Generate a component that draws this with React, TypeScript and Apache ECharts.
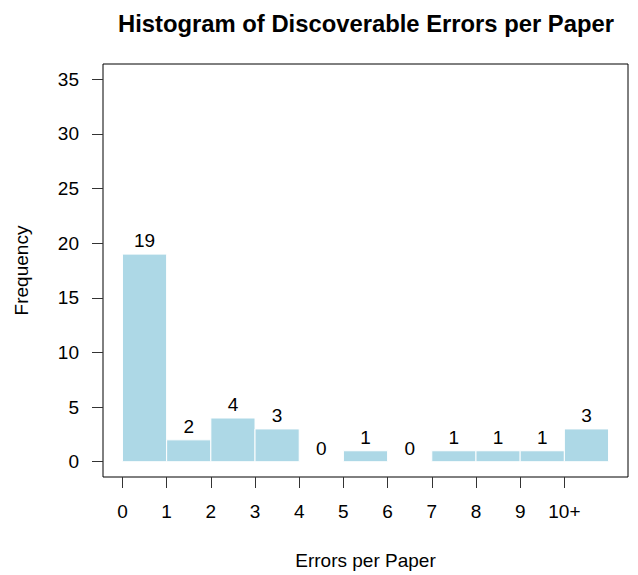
import React, { useEffect, useRef } from "react";
import * as echarts from "echarts";

const binLabels = ["0", "1", "2", "3", "4", "5", "6", "7", "8", "9", "10+"];
const binStarts = [0, 1, 2, 3, 4, 5, 6, 7, 8, 9, 10];
const counts = [19, 2, 4, 3, 0, 1, 0, 1, 1, 1, 3];
const xTicks = [0, 1, 2, 3, 4, 5, 6, 7, 8, 9, 10];
const yTicks = [0, 5, 10, 15, 20, 25, 30, 35];

const FONT = "'Liberation Sans', Arial, Helvetica, sans-serif";

export default function App() {
  const ref = useRef<HTMLDivElement>(null);
  useEffect(() => {
    document.body.style.margin = "0";
    if (!ref.current) return;
    const chart = echarts.init(ref.current, null, { renderer: "svg" });
    const data = counts.map((c, i) => [binStarts[i], binStarts[i] + 1, c]);
    chart.setOption({
      animation: false,
      backgroundColor: "#ffffff",
      title: {
        text: "Histogram of Discoverable Errors per Paper",
        left: 361,
        top: 6,
        textAlign: "center",
        textStyle: { fontFamily: FONT, fontWeight: "bold", fontSize: 23.8, color: "#000" },
      },
      grid: {
        left: 103,
        right: 10,
        top: 64,
        bottom: 97,
        show: true,
        borderColor: "#000",
        borderWidth: 1,
        backgroundColor: "transparent",
      },
      xAxis: {
        type: "value",
        min: -0.44,
        max: 11.44,
        name: "Errors per Paper",
        nameLocation: "middle",
        nameGap: 74,
        nameTextStyle: { fontFamily: FONT, fontSize: 19, color: "#000" },
        axisLine: { show: false, onZero: false },
        splitLine: { show: false },
        axisTick: {
          show: true,
          inside: false,
          length: 11,
          customValues: xTicks,
          lineStyle: { color: "#333", width: 1 },
        },
        axisLabel: {
          customValues: xTicks,
          margin: 25,
          fontFamily: FONT,
          fontSize: 19,
          color: "#000",
          formatter: (v: number) => binLabels[binStarts.indexOf(v)] ?? String(v),
        },
      },
      yAxis: {
        type: "value",
        min: -1.4,
        max: 36.4,
        name: "Frequency",
        nameLocation: "middle",
        nameGap: 72,
        nameTextStyle: { fontFamily: FONT, fontSize: 19, color: "#000" },
        axisLine: { show: false, onZero: false },
        splitLine: { show: false },
        axisTick: {
          show: true,
          length: 11,
          customValues: yTicks,
          lineStyle: { color: "#333", width: 1 },
        },
        axisLabel: {
          customValues: yTicks,
          margin: 24,
          fontFamily: FONT,
          fontSize: 19,
          color: "#000",
        },
      },
      series: [
        {
          type: "custom",
          data,
          renderItem: (params: any, api: any) => {
            const x0 = api.value(0);
            const x1 = api.value(1);
            const v = api.value(2);
            const p0 = api.coord([x0, 0]);
            const p1 = api.coord([x1, v]);
            const children: any[] = [];
            if (v > 0) {
              children.push({
                type: "rect",
                shape: { x: p0[0], y: p1[1], width: p1[0] - p0[0], height: p0[1] - p1[1] },
                style: { fill: "#ADD8E6", stroke: "#ffffff", lineWidth: 1 },
              });
            }
            children.push({
              type: "text",
              x: (p0[0] + p1[0]) / 2,
              y: p1[1] - 4,
              style: {
                text: String(v),
                textAlign: "center",
                textVerticalAlign: "bottom",
                fontSize: 19,
                fontFamily: FONT,
                fill: "#000",
              },
            });
            return { type: "group", children };
          },
        },
      ],
    });
    return () => chart.dispose();
  }, []);
  return <div ref={ref} style={{ width: 638, height: 575 }} />;
}
